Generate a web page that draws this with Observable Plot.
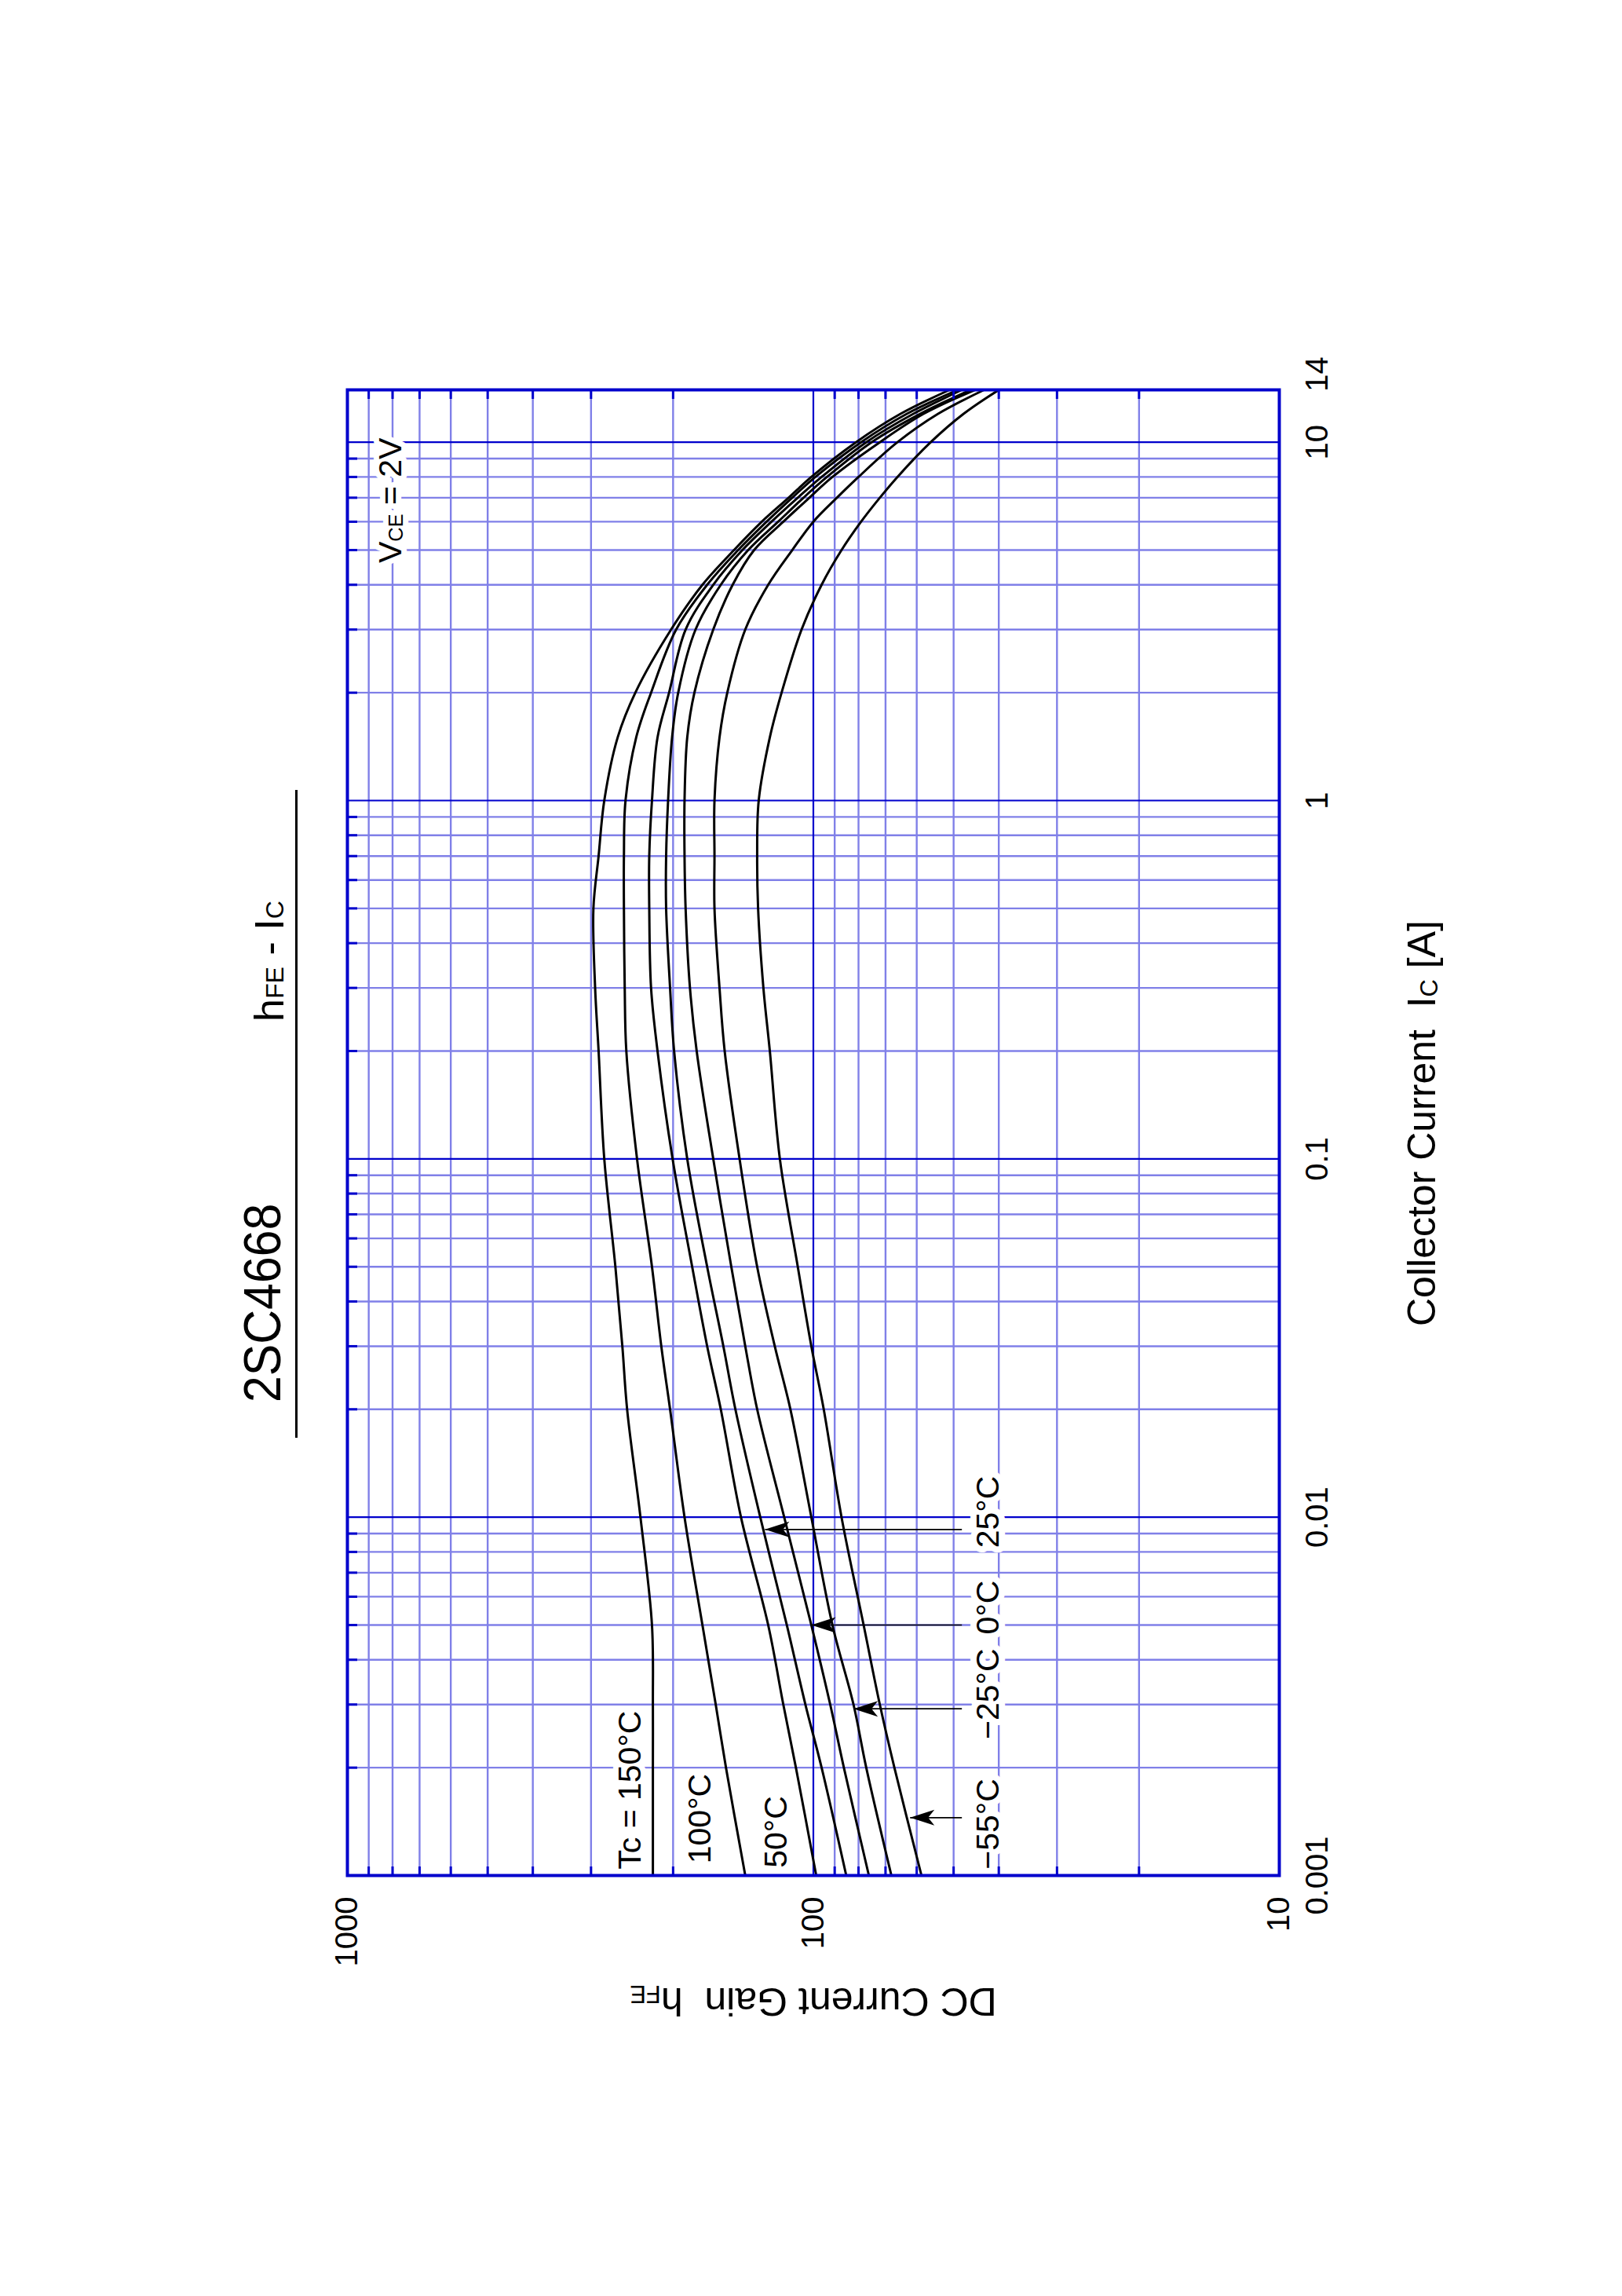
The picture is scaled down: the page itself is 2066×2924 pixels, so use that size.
<!DOCTYPE html>
<html>
<head>
<meta charset="utf-8">
<script src="https://cdn.jsdelivr.net/npm/d3@7"></script>
<script src="https://cdn.jsdelivr.net/npm/@observablehq/plot@0.6"></script>
<style>
html, body { margin: 0; padding: 0; width: 2066px; height: 2924px; overflow: hidden; background: #fff; }
#rot { position: absolute; left: 0; top: 0; width: 2924px; height: 2066px; transform-origin: 0 0;
       transform: translate(0px, 2924px) rotate(-90deg); font-family: "Liberation Sans", Arial, sans-serif; color: #000; }
#rot svg { position: absolute; left: 0; top: 0; }
.ttl { position: absolute; white-space: pre; line-height: 1; z-index: 2; }
.sub { font-size: 0.62em; }
#underline { position: absolute; left: 1093px; top: 376px; width: 825px; height: 0; border-top: 3px solid #000; z-index: 2; }
</style>
</head>
<body>
<div id="rot">
  <div class="ttl" id="title" style="left:1138px; top:301px; font-size:66px; transform:scaleX(0.92); transform-origin:0 0;">2SC4668</div>
  <div class="ttl" id="subtitle" style="left:1623px; top:317px; font-size:52px;">h<span class="sub">FE</span> - I<span class="sub">C</span></div>
  <div id="underline"></div>
</div>
<script>
// ---- data ----
const ic = [0.001, 0.002, 0.003, 0.005, 0.01, 0.02, 0.03, 0.05, 0.1, 0.2, 0.3, 0.5, 0.7, 1, 1.5, 2, 3, 4, 5, 6, 7, 8, 10, 12, 14];
const hfe150 = [221, 221, 221, 222, 235, 251, 257, 266, 281, 289, 294, 296.5, 289, 281, 263, 241, 202, 173, 148, 129, 113, 101, 81, 65, 51];
const hfe100 = [140, 154, 162, 173, 189, 203, 212, 222, 239, 252, 254, 255, 255, 253, 240, 223, 197, 169, 145, 126, 111, 99, 79, 63, 49];
const hfe50  = [98.6, 109, 116, 125, 143, 158, 169, 182, 200.5, 216, 223, 225, 225, 222, 216, 204, 188, 164, 142, 123, 108, 96, 77, 61, 48];
const hfe25  = [85, 96, 104, 114, 130, 147, 156, 169, 186.5, 199, 203, 207, 207, 205, 201, 195, 179, 158, 138, 119, 105, 93.5, 75, 59, 46];
const hfe0   = [76, 86, 92, 101, 115.5, 132, 140, 150, 164, 178, 184, 188, 189, 189, 186.5, 180, 164, 149, 134, 116, 102, 91, 72, 58, 45];
const hfeM25 = [68, 77, 82, 91, 101, 112, 121, 132, 144, 155, 159, 163, 163, 163, 159, 153, 140, 125, 111, 100, 89, 80, 66, 54, 43];
const hfeM55 = [58.6, 67, 72, 78, 87, 95, 101, 108, 118, 124, 128, 131.4, 132, 131, 124, 117, 106, 96, 87, 79, 72, 66, 56, 47.6, 40];

const temps = ["150°C", "100°C", "50°C", "25°C", "0°C", "−25°C", "−55°C"];

const icTicks = [0.001, 0.01, 0.1, 1, 10, 14];
const icTickLabels = ["0.001", "0.01", "0.1", "1", "10", "14"];
const hfeTicks = [10, 100, 1000];
const hfeTickLabels = ["10", "100", "1000"];

const leftLabels = ["Tc = 150°C", "100°C", "50°C"];
const leftLabelIc = [0.00104, 0.00108, 0.00105];
const leftLabelHfe = [235, 166, 114];

const rightLabels = ["−55°C", "−25°C", "0°C", "25°C"];
const rightLabelIc = [0.00104, 0.0024, 0.00471, 0.00821];
const rightLabelHfe = 40;

const arrowIc = [0.00145, 0.00292, 0.005, 0.00924];
const arrowTip = [62, 82, 101, 127];
const arrowTail = 48;

const vceLabel = "VCE = 2V";
const vceIc = 4.6;
const vceHfe = 768;

const xTitle = "Collector Current  IC [A]";
const yTitle = "DC Current Gain  hFE";

// ---- derived tables ----
const seriesVals = [hfe150, hfe100, hfe50, hfe25, hfe0, hfeM25, hfeM55];
const rows = temps.flatMap((t, k) => seriesVals[k].map((v, i) => ({t, ic: ic[i], hfe: v})));
const leftRows = leftLabels.map((label, i) => ({label, ic: leftLabelIc[i], hfe: leftLabelHfe[i]}));
const rightRows = rightLabels.map((label, i) => ({label, ic: rightLabelIc[i], hfe: rightLabelHfe}));
const arrowRows = arrowIc.map((x, i) => ({ic: x, tip: arrowTip[i], tail: arrowTail}));

const icMinor = [0.001, 0.01, 0.1, 1].flatMap(d => d3.range(2, 10).map(k => +(k * d).toPrecision(3)));
const icMajor = [0.01, 0.1, 1, 10];
const hfeMinor = [10, 100].flatMap(d => d3.range(2, 10).map(k => k * d));
const hfeMajor = [100];

const minorColor = "#8080e8";
const majorColor = "#0000cc";

const lab = (ticks, labels) => d => labels[ticks.indexOf(d)];

const arrowHead = {
  draw(ctx, size) {
    const r = Math.sqrt(size / Math.PI);
    ctx.moveTo(0, 0);
    ctx.lineTo(-1.0 * r, 3.1 * r);
    ctx.lineTo(0, 2.3 * r);
    ctx.lineTo(1.0 * r, 3.1 * r);
    ctx.closePath();
  }
};

const chart = Plot.plot({
  width: 2924,
  height: 2066,
  marginLeft: 535,
  marginRight: 497,
  marginTop: 442,
  marginBottom: 437,
  style: {fontFamily: "'Liberation Sans', Arial, sans-serif", fontSize: "40px", color: "black", background: "white", overflow: "visible"},
  x: {type: "log", domain: [0.001, 14], axis: null},
  y: {type: "log", domain: [10, 1000], axis: null},
  marks: [
    Plot.ruleX(icMinor, {stroke: minorColor, strokeWidth: 2.4}),
    Plot.ruleY(hfeMinor, {stroke: minorColor, strokeWidth: 2.4}),
    Plot.ruleX(icMajor, {stroke: majorColor, strokeWidth: 2.2}),
    Plot.ruleY(hfeMajor, {stroke: majorColor, strokeWidth: 2.2}),
    Plot.text(leftRows, {x: "ic", y: "hfe", text: "label", textAnchor: "start", lineAnchor: "bottom", fontSize: 41, fill: "black", stroke: "white", strokeWidth: 14}),
    Plot.text(rightRows, {x: "ic", y: "hfe", text: "label", textAnchor: "start", lineAnchor: "bottom", fontSize: 41, fill: "black", stroke: "white", strokeWidth: 16}),
    Plot.text([vceLabel], {x: [vceIc], y: [vceHfe], textAnchor: "start", lineAnchor: "bottom", fontSize: 41, fill: "black", stroke: "white", strokeWidth: 14}),
    Plot.line(rows, {x: "ic", y: "hfe", z: "t", curve: "catmull-rom", stroke: "black", strokeWidth: 3}),
    Plot.link(arrowRows, {x1: "ic", x2: "ic", y1: "tail", y2: "tip", stroke: "black", strokeWidth: 1.6}),
    Plot.dot(arrowRows, {x: "ic", y: "tip", r: 10, symbol: arrowHead, fill: "black", stroke: "none"}),
    Plot.axisX({anchor: "top", ticks: icMinor, tickSize: -12, tickFormat: () => "", label: null, stroke: majorColor, strokeWidth: 3}),
    Plot.axisY({anchor: "left", ticks: hfeMinor, tickSize: -12, tickFormat: () => "", label: null, stroke: majorColor, strokeWidth: 3}),
    Plot.axisY({anchor: "right", ticks: hfeMinor, tickSize: -12, tickFormat: () => "", label: null, stroke: majorColor, strokeWidth: 3}),
    Plot.frame({stroke: majorColor, strokeWidth: 4}),
    Plot.axisX({anchor: "bottom", ticks: icTicks.slice(0, 5), tickFormat: lab(icTicks, icTickLabels), tickSize: 0, tickPadding: 33, label: null, fontSize: 40}),
    Plot.axisX({anchor: "bottom", ticks: icTicks.slice(5), tickFormat: lab(icTicks, icTickLabels), tickSize: 0, tickPadding: 33, dx: 20, label: null, fontSize: 40}),
    Plot.axisY({anchor: "left", ticks: hfeTicks, tickFormat: lab(hfeTicks, hfeTickLabels), tickSize: 0, tickPadding: 27, label: null, fontSize: 40}),
    Plot.text([xTitle], {frameAnchor: "bottom", dy: 198, dx: 12, textAnchor: "middle", lineAnchor: "bottom", fontSize: 50}),
    Plot.text([yTitle], {frameAnchor: "left", rotate: -90, dx: -143, textAnchor: "middle", lineAnchor: "bottom", fontSize: 50})
  ]
});

// rich text (subscripts) for a few labels
const rich = {
  [xTitle]: {fs: 50, parts: [["Collector Current  I", 0], ["C", 1], [" [A]", 0]]},
  [yTitle]: {fs: 50, parts: [["DC Current Gain  h", 0], ["FE", 1]]},
  [vceLabel]: {fs: 41, parts: [["V", 0], ["CE", 1], [" = 2V", 0]]}
};
d3.select(chart).selectAll("text").each(function () {
  const spec = rich[this.textContent];
  if (!spec) return;
  const t = d3.select(this).style("white-space", "pre");
  this.textContent = "";
  let wasSub = false;
  for (const [s, sub] of spec.parts) {
    const ts = t.append("tspan").text(s);
    if (sub) { ts.attr("font-size", spec.fs * 0.62).attr("dy", spec.fs * 0.06); wasSub = true; }
    else if (wasSub) { ts.attr("dy", -spec.fs * 0.06); wasSub = false; }
  }
});

const rot = document.getElementById("rot");
rot.insertBefore(chart, rot.firstChild);
</script>
</body>
</html>
